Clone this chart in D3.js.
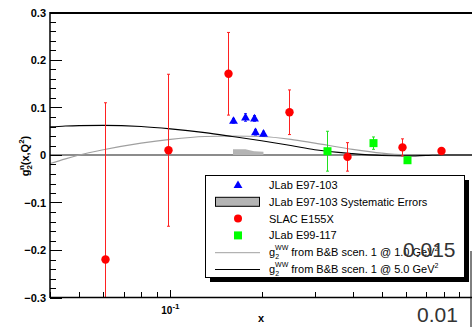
<!DOCTYPE html>
<html>
<head>
<meta charset="utf-8">
<script src="https://cdn.jsdelivr.net/npm/d3@7"></script>
<style>
  body { margin: 0; background: #fff; }
  svg { display: block; font-family: "Liberation Sans", Arial, sans-serif; }
</style>
</head>
<body>
<svg width="472" height="327"></svg>
<script>
// SLAC E155X
var slacX = [0.061, 0.098, 0.155, 0.246, 0.382, 0.583, 0.785];
var slacY = [-0.22, 0.010, 0.171, 0.090, -0.004, 0.016, 0.0085];
var slacE = [0.33, 0.16, 0.087, 0.047, 0.030, 0.018, 0.004];

// JLab E99-117
var e99X = [0.328, 0.468, 0.603];
var e99Y = [0.008, 0.025, -0.011];
var e99E = [0.042, 0.013, 0.004];

// JLab E97-103 and its systematic errors
var e97X = [0.161, 0.177, 0.189, 0.190, 0.203];
var e97Y = [0.072, 0.079, 0.077, 0.048, 0.045];
var e97E = [0.005, 0.008, 0.006, 0.006, 0.005];
var e97Sys = [0.012, 0.012, 0.008, 0.008, 0.007];

// g2 WW curves (B&B scen. 1)
var wwX  = [0.04, 0.045, 0.05, 0.06, 0.08, 0.1, 0.13, 0.16, 0.2, 0.25, 0.3, 0.4, 0.5, 0.6, 0.7, 0.8, 1.0];
var ww1  = [-0.018, -0.008, 0.0, 0.011, 0.025, 0.033, 0.039, 0.040, 0.039, 0.033, 0.025, 0.012, 0.004, 0.0, -0.001, 0.0, 0.0];
var ww5  = [0.059, 0.061, 0.062, 0.0625, 0.060, 0.055, 0.047, 0.039, 0.030, 0.020, 0.011, 0.003, -0.001, -0.002, -0.001, 0.0, 0.0];

var yTicks = [-0.3, -0.2, -0.1, 0, 0.1, 0.2, 0.3];

var legendRows = [
  { type: "tri", label: "JLab E97-103" },
  { type: "box", label: "JLab E97-103 Systematic Errors" },
  { type: "circ", label: "SLAC E155X" },
  { type: "sq", label: "JLab E99-117" },
  { type: "grey", label: " from B&B scen. 1 @ 1.0 GeV" },
  { type: "black", label: " from B&B scen. 1 @ 5.0 GeV" }
];

var svg = d3.select("svg");

var x = d3.scaleLog().domain([0.04, 1.0]).range([50, 473]);
var y = d3.scaleLinear().domain([-0.3, 0.3]).range([297.5, 12.5]);

svg.append("defs").append("clipPath").attr("id", "plot")
  .append("rect").attr("x", 50).attr("y", 12.5).attr("width", 423).attr("height", 285);

var plot = svg.append("g").attr("clip-path", "url(#plot)");

// zero line
plot.append("line")
  .attr("x1", 50).attr("x2", 473).attr("y1", y(0)).attr("y2", y(0))
  .attr("stroke", "#666").attr("stroke-width", 1.6);

// systematic error band
plot.append("path")
  .datum(e97X.map(function(d, i) { return [d, e97Sys[i]]; }))
  .attr("fill", "#b4b4b4")
  .attr("d", d3.area()
    .x(function(d) { return x(d[0]); })
    .y0(y(0))
    .y1(function(d) { return y(d[1]); }));

// curves
var line = d3.line()
  .x(function(d) { return x(d[0]); })
  .y(function(d) { return y(d[1]); })
  .curve(d3.curveMonotoneX);

plot.append("path")
  .datum(wwX.map(function(d, i) { return [d, ww1[i]]; }))
  .attr("fill", "none").attr("stroke", "#a0a0a0").attr("stroke-width", 1.2)
  .attr("d", line);
plot.append("path")
  .datum(wwX.map(function(d, i) { return [d, ww5[i]]; }))
  .attr("fill", "none").attr("stroke", "#000").attr("stroke-width", 1.2)
  .attr("d", line);

// error bars helper
function errorBars(xs, ys, es, colour) {
  var g = plot.append("g").attr("stroke", colour).attr("stroke-width", 1);
  xs.forEach(function(d, i) {
    var cx = Math.round(x(d)) + 0.5;
    var top = y(ys[i] + es[i]), bot = y(ys[i] - es[i]);
    g.append("line").attr("x1", cx).attr("x2", cx).attr("y1", top).attr("y2", bot);
    g.append("line").attr("x1", cx - 1.5).attr("x2", cx + 1.5).attr("y1", top).attr("y2", top);
    g.append("line").attr("x1", cx - 1.5).attr("x2", cx + 1.5).attr("y1", bot).attr("y2", bot);
  });
}

errorBars(slacX, slacY, slacE, "#ff2020");
errorBars(e99X, e99Y, e99E, "#20e020");
errorBars(e97X, e97Y, e97E, "#2020ff");

var tri = d3.symbol().type(d3.symbolTriangle).size(34);

plot.selectAll(".slac").data(slacX).enter().append("circle")
  .attr("cx", function(d) { return Math.round(x(d)) + 0.5; })
  .attr("cy", function(d, i) { return y(slacY[i]); })
  .attr("r", 4.2).attr("fill", "#ff0000");

plot.selectAll(".e99").data(e99X).enter().append("rect")
  .attr("x", function(d) { return Math.round(x(d)) + 0.5 - 4; })
  .attr("y", function(d, i) { return y(e99Y[i]) - 4; })
  .attr("width", 8).attr("height", 8).attr("fill", "#00ff00");

plot.selectAll(".e97").data(e97X).enter().append("path")
  .attr("transform", function(d, i) { return "translate(" + (Math.round(x(d)) + 0.5) + "," + (y(e97Y[i]) + 0.5) + ")"; })
  .attr("d", tri).attr("fill", "#0000ff");

// frame
svg.append("line").attr("x1", 50).attr("x2", 472).attr("y1", 13).attr("y2", 13)
  .attr("stroke", "#000").attr("stroke-width", 2);
svg.append("line").attr("x1", 50).attr("x2", 50).attr("y1", 12).attr("y2", 298)
  .attr("stroke", "#000").attr("stroke-width", 1.5);
svg.append("line").attr("x1", 50).attr("x2", 472).attr("y1", 297.5).attr("y2", 297.5)
  .attr("stroke", "#000").attr("stroke-width", 1.5);

// y axis ticks
var yMinor = d3.range(-0.3, 0.3001, 0.02);
svg.append("g").selectAll("line").data(yMinor).enter().append("line")
  .attr("x1", 50)
  .attr("x2", function(d) { return Math.abs(d * 10 - Math.round(d * 10)) < 1e-6 ? 62 : 56; })
  .attr("y1", function(d) { return Math.round(y(d)) + 0.5; })
  .attr("y2", function(d) { return Math.round(y(d)) + 0.5; })
  .attr("stroke", "#000").attr("stroke-width", 1);

svg.append("g").selectAll("text").data(yTicks).enter().append("text")
  .attr("x", 46).attr("y", function(d) { return y(d) + 4; })
  .attr("text-anchor", "end").attr("font-size", 11).attr("font-weight", "bold")
  .text(function(d) { return d === 0 ? "0" : d3.format(".1f")(d); });

// x axis ticks
var xMinor = [0.04, 0.05, 0.06, 0.07, 0.08, 0.09, 0.1, 0.2, 0.3, 0.4, 0.5, 0.6, 0.7, 0.8, 0.9];
svg.append("g").selectAll("line").data(xMinor).enter().append("line")
  .attr("x1", function(d) { return Math.round(x(d)) + 0.5; })
  .attr("x2", function(d) { return Math.round(x(d)) + 0.5; })
  .attr("y1", 297)
  .attr("y2", function(d) { return d === 0.1 ? 290 : 292; })
  .attr("stroke", "#000").attr("stroke-width", 1);

var xl = svg.append("text").attr("x", x(0.1)).attr("y", 314)
  .attr("text-anchor", "middle").attr("font-size", 10).attr("font-weight", "bold");
xl.append("tspan").text("10");
xl.append("tspan").attr("dy", -5).attr("font-size", 8).text("-1");

svg.append("text").attr("x", 261).attr("y", 322).attr("text-anchor", "middle")
  .attr("font-size", 11).attr("font-weight", "bold").text("x");

// y label
var yl = svg.append("text").attr("transform", "translate(29,156) rotate(-90)")
  .attr("text-anchor", "middle").attr("font-size", 11).attr("font-weight", "bold");
yl.append("tspan").text("g");
yl.append("tspan").attr("dy", 3).attr("font-size", 8).text("2");
yl.append("tspan").attr("dx", -5).attr("dy", -8).attr("font-size", 8).text("n");
yl.append("tspan").attr("dy", 5).text("(x,Q");
yl.append("tspan").attr("dy", -5).attr("font-size", 8).text("2");
yl.append("tspan").attr("dy", 5).text(")");

// legend
var lg = svg.append("g");
lg.append("rect").attr("x", 210).attr("y", 180).attr("width", 259).attr("height", 102).attr("fill", "#000");
lg.append("rect").attr("x", 205.5).attr("y", 175.5).attr("width", 259).attr("height", 102)
  .attr("fill", "#fff").attr("stroke", "#000").attr("stroke-width", 1);

var rows = lg.selectAll(".row").data(legendRows).enter().append("g")
  .attr("transform", function(d, i) { return "translate(0," + (185 + i * 16.8) + ")"; });

rows.each(function(d) {
  var r = d3.select(this);
  if (d.type === "tri") r.append("path").attr("transform", "translate(238,0.5)").attr("d", tri).attr("fill", "#0000ff");
  if (d.type === "box") r.append("rect").attr("x", 215.5).attr("y", -4.5).attr("width", 44).attr("height", 9)
    .attr("fill", "#b4b4b4").attr("stroke", "#000").attr("stroke-width", 1);
  if (d.type === "circ") r.append("circle").attr("cx", 238).attr("cy", 0).attr("r", 4).attr("fill", "#ff0000");
  if (d.type === "sq") r.append("rect").attr("x", 234).attr("y", -4).attr("width", 8).attr("height", 8).attr("fill", "#00ff00");
  if (d.type === "grey" || d.type === "black") r.append("line").attr("x1", 215).attr("x2", 260).attr("y1", 0.5).attr("y2", 0.5)
    .attr("stroke", d.type === "grey" ? "#a0a0a0" : "#000").attr("stroke-width", 1);

  var t = r.append("text").attr("x", 269).attr("y", 4).attr("font-size", 11);
  if (d.type === "grey" || d.type === "black") {
    t.append("tspan").text("g");
    t.append("tspan").attr("dy", 3).attr("font-size", 7).text("2");
    t.append("tspan").attr("dx", -4).attr("dy", -9).attr("font-size", 7).text("WW");
    t.append("tspan").attr("dy", 6).text(d.label);
    t.append("tspan").attr("dy", -5).attr("font-size", 7).text("2");
  } else {
    t.text(d.label);
  }
});

// stray overlay text and line at the right edge
svg.append("text").attr("x", 403).attr("y", 257).attr("font-size", 21).attr("fill", "#333").text("0.015");
svg.append("text").attr("x", 417).attr("y", 322).attr("font-size", 21).attr("fill", "#333").text("0.01");
svg.append("line").attr("x1", 471).attr("x2", 471).attr("y1", 251).attr("y2", 327)
  .attr("stroke", "#000").attr("stroke-width", 1);
</script>
</body>
</html>
